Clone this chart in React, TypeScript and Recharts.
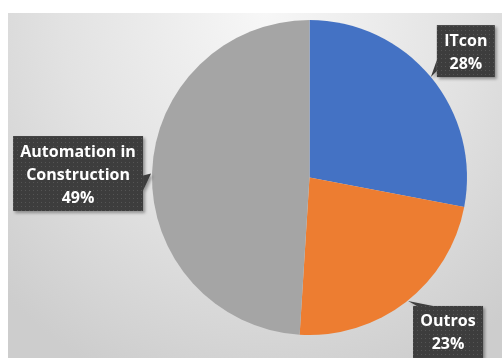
import React from "react";
import { PieChart, Pie, Cell } from "recharts";

const CATEGORIES = ["ITcon", "Outros", "Automation in Construction"];
const SHARES = [28, 23, 49];
const COLORS = ["#4472C4", "#ED7D31", "#A5A5A5"];

const FONT = "bold 16px 'Open Sans'";
const LINE_H = 23;

let ctx: CanvasRenderingContext2D | null = null;
function textWidth(s: string): number {
  if (!ctx) ctx = document.createElement("canvas").getContext("2d");
  if (!ctx) return s.length * 9;
  ctx.font = FONT;
  return ctx.measureText(s).width;
}

// break long category names like Excel does in its callouts
function wrap(name: string, max = 14): string[] {
  const lines: string[] = [];
  let cur = "";
  for (const w of name.split(" ")) {
    const next = cur ? cur + " " + w : w;
    if (next.length > max && cur) {
      lines.push(cur);
      cur = w;
    } else cur = next;
  }
  if (cur) lines.push(cur);
  return lines;
}

function Callout(props: any) {
  const { cx, cy, midAngle, outerRadius, percent, index } = props;
  const RAD = Math.PI / 180;
  const tx = cx + outerRadius * Math.cos(-midAngle * RAD);
  const ty = cy + outerRadius * Math.sin(-midAngle * RAD);
  const lines = [...wrap(CATEGORIES[index]), `${Math.round(percent * 100)}%`];
  const w = Math.ceil(Math.max(...lines.map(textWidth))) + 14;
  const h = lines.length * LINE_H + 6;
  const cos = Math.cos(midAngle * RAD);
  const sin = Math.sin(midAngle * RAD);

  let bx: number, by: number, pts: number[][];
  if (cos < -0.5) {
    bx = tx - 9 - w;
    by = ty + 1 - h / 2;
    pts = [[bx + w, ty + 3], [bx + w, ty + 18], [tx - 1, ty + 1]];
  } else if (sin > 0) {
    bx = tx + 6;
    by = ty - h;
    pts = [[bx, by + h - 17], [bx, by + h - 6], [tx, ty]];
  } else {
    bx = tx + 7;
    by = ty + 4;
    pts = [[bx + 4, by], [bx + 20, by], [tx + 2, ty - 1]];
  }

  const pid = `dots-${index}`;
  const fid = `shadow-${index}`;
  return (
    <g>
      <defs>
        <pattern id={pid} width={4} height={4} patternUnits="userSpaceOnUse">
          <rect width={4} height={4} fill="#3c3c3c" />
          <rect x={1} y={1} width={1} height={1} fill="#555" />
        </pattern>
        <filter id={fid} x="-20%" y="-20%" width="150%" height="150%">
          <feDropShadow dx={2} dy={2} stdDeviation={1.5} floodColor="#000" floodOpacity={0.35} />
        </filter>
      </defs>
      <g filter={`url(#${fid})`}>
        <rect x={bx} y={by} width={w} height={h} fill={`url(#${pid})`} />
        <polygon points={pts.map((p) => p.join(",")).join(" ")} fill="#3c3c3c" />
      </g>
      {lines.map((l, i) => (
        <text
          key={i}
          x={bx + w / 2}
          y={by + 3 + LINE_H * (i + 0.5)}
          textAnchor="middle"
          dominantBaseline="central"
          fill="#ffffff"
          style={{ font: FONT }}
        >
          {l}
        </text>
      ))}
    </g>
  );
}

export default function App() {
  const data = CATEGORIES.map((name, i) => ({ name, value: SHARES[i] }));

  return (
    <div
      style={{
        position: "fixed",
        left: 8,
        top: 13,
        width: 494,
        height: 345,
        background:
          "radial-gradient(ellipse 75% 115% at 52% 0%, #f7f7f7 0%, #e2e2e2 55%, #cdcdcd 100%)",
        fontFamily: "'Open Sans', sans-serif",
      }}
    >
      <PieChart width={494} height={345} margin={{ top: 0, right: 0, bottom: 0, left: 0 }}>
        <Pie
          data={data}
          dataKey="value"
          nameKey="name"
          cx={301.5}
          cy={164.5}
          outerRadius={157.5}
          startAngle={90}
          endAngle={-270}
          stroke="none"
          labelLine={false}
          label={Callout}
          isAnimationActive={false}
        >
          {data.map((d, i) => (
            <Cell key={d.name} fill={COLORS[i]} />
          ))}
        </Pie>
      </PieChart>
    </div>
  );
}
